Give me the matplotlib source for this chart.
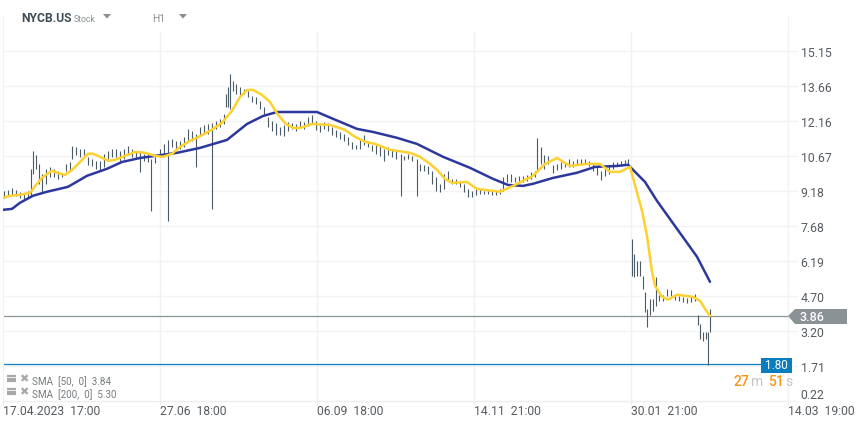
import matplotlib
matplotlib.use('Agg')
import matplotlib.pyplot as plt
from matplotlib.patches import Polygon, Rectangle

plt.rcParams['font.family'] = ['Roboto', 'DejaVu Sans']

W, H = 859, 427

# x is the position on the time axis, 157 units between date labels
bar_x = [1, 5, 9, 13, 17, 21, 25, 28, 30, 33,
         36, 39, 43, 47, 51, 55, 59, 63, 67, 69,
         73, 77, 81, 85, 89, 93, 97, 101, 105, 109,
         113, 117, 121, 125, 129, 133, 137, 141, 145, 148,
         152, 157, 161, 165, 169, 173, 177, 181, 185, 189,
         193, 197, 201, 205, 209, 213, 217, 221, 223, 225,
         227, 230, 233, 237, 241, 245, 249, 253, 257, 261,
         265, 269, 273, 277, 281, 285, 289, 293, 297, 301,
         305, 309, 313, 317, 321, 325, 329, 333, 337, 341,
         345, 349, 353, 357, 361, 365, 369, 373, 377, 381,
         385, 389, 393, 398, 401, 405, 409, 414, 417, 421,
         425, 429, 433, 437, 441, 445, 449, 453, 457, 461,
         465, 469, 473, 477, 481, 485, 489, 493, 497, 500,
         504, 508, 512, 516, 520, 524, 528, 532, 534, 538,
         541, 545, 550, 554, 558, 562, 566, 570, 574, 578,
         582, 586, 590, 594, 598, 602, 606, 610, 614, 618,
         622, 625, 629, 631, 634, 637, 640, 642, 644, 647,
         650, 653, 656, 660, 664, 668, 672, 676, 680, 684,
         688, 692, 695, 697, 700, 703, 705, 707]
bar_high = [9.18, 9.22, 9.31, 9.22, 9.14, 9.05, 9.18, 10.12, 10.88, 10.71,
            10.33, 9.90, 10.12, 10.20, 10.12, 10.03, 9.90, 10.33, 10.41, 11.10,
            11.05, 10.97, 10.97, 10.63, 10.54, 10.46, 10.46, 10.76, 10.88, 10.97,
            10.97, 10.88, 10.97, 11.10, 10.97, 10.88, 10.88, 10.76, 10.76, 10.54,
            10.63, 10.97, 11.18, 11.35, 11.39, 11.31, 11.31, 11.48, 11.82, 11.74,
            11.61, 11.91, 11.99, 12.03, 12.08, 12.16, 12.25, 12.46, 13.31, 13.61,
            14.16, 13.87, 13.74, 13.61, 13.52, 13.44, 13.23, 13.18, 13.01, 12.76,
            12.33, 12.16, 12.08, 11.91, 11.99, 12.12, 12.08, 12.03, 12.16, 12.12,
            12.33, 12.42, 12.16, 11.99, 12.12, 12.08, 11.91, 11.78, 11.69, 11.61,
            11.48, 11.27, 11.14, 11.39, 11.56, 11.31, 11.14, 11.14, 11.10, 10.97,
            11.05, 10.97, 10.88, 10.76, 10.67, 10.76, 10.67, 10.54, 10.33, 10.29,
            10.24, 10.03, 9.78, 9.48, 9.90, 10.03, 9.69, 9.69, 9.60, 9.48,
            9.26, 9.18, 9.26, 9.26, 9.18, 9.22, 9.22, 9.22, 9.26, 9.78,
            9.90, 9.90, 9.78, 9.82, 9.82, 9.86, 9.99, 10.03, 11.44, 11.05,
            10.71, 10.67, 10.29, 10.33, 10.41, 10.41, 10.54, 10.46, 10.54, 10.54,
            10.54, 10.46, 10.33, 10.24, 10.03, 10.12, 10.29, 10.41, 10.41, 10.46,
            10.50, 10.54, 7.13, 6.50, 6.20, 6.20, 5.56, 4.88, 4.15, 4.58,
            4.58, 5.52, 4.75, 4.75, 5.00, 4.96, 4.75, 4.71, 4.66, 4.62,
            4.71, 4.80, 3.90, 3.51, 3.17, 3.17, 3.17, 4.15]
bar_low = [8.88, 8.97, 9.01, 8.97, 8.88, 8.80, 8.88, 8.97, 9.90, 10.12,
           9.48, 9.14, 9.48, 9.78, 9.78, 9.69, 9.78, 10.03, 10.03, 10.54,
           10.71, 10.63, 10.71, 10.29, 10.24, 10.12, 10.03, 10.20, 10.54, 10.63,
           10.63, 10.46, 10.54, 10.71, 10.63, 10.54, 9.99, 10.46, 10.41, 8.33,
           10.37, 10.63, 10.76, 7.90, 11.05, 10.97, 10.97, 11.05, 11.31, 11.31,
           10.20, 11.52, 11.61, 11.61, 8.41, 11.82, 11.91, 12.03, 12.76, 12.76,
           12.67, 13.44, 13.31, 13.27, 13.31, 13.18, 12.97, 12.89, 12.67, 12.46,
           11.91, 11.74, 11.56, 11.56, 11.52, 11.74, 11.82, 11.74, 11.91, 11.82,
           11.95, 12.03, 11.78, 11.69, 11.82, 11.74, 11.56, 11.48, 11.39, 11.31,
           11.14, 10.97, 10.97, 10.97, 11.14, 11.05, 10.88, 10.76, 10.67, 10.46,
           10.71, 10.63, 10.54, 8.97, 10.50, 10.54, 10.46, 8.97, 10.03, 10.03,
           9.90, 9.48, 9.18, 9.14, 9.26, 9.60, 9.48, 9.48, 9.35, 9.14,
           8.92, 8.92, 9.01, 9.05, 9.05, 9.05, 9.01, 9.01, 9.05, 9.18,
           9.56, 9.56, 9.56, 9.56, 9.56, 9.60, 9.69, 9.78, 10.03, 10.33,
           10.12, 10.33, 9.95, 10.07, 10.12, 10.20, 10.20, 10.20, 10.29, 10.33,
           10.33, 10.24, 10.03, 9.86, 9.65, 9.82, 9.90, 10.12, 10.24, 10.24,
           10.29, 10.33, 5.56, 5.52, 5.56, 5.56, 5.00, 4.02, 3.38, 3.90,
           4.07, 4.28, 4.49, 4.49, 4.71, 4.71, 4.54, 4.49, 4.45, 4.41,
           4.45, 4.49, 3.47, 2.87, 2.79, 2.87, 1.77, 3.17]

sma50_x = [0, 7, 17, 27, 33, 39, 44, 49, 54, 62, 69, 77, 85, 90, 97, 105, 112, 122, 132, 142,
           152, 160, 169, 177, 187, 194, 207, 219, 229, 237, 244, 250, 259, 267, 275, 283, 290, 297,
           309, 327, 342, 352, 362, 372, 387, 407, 417, 427, 434, 442, 449, 464, 474, 497, 510, 530,
           542, 554, 567, 584, 597, 607, 617, 627, 633, 639, 644, 649, 652, 659, 665, 674, 690, 697,
           702, 707]
sma50_y = [8.88, 8.97, 9.01, 9.09, 9.43, 9.73, 9.90, 10.03, 9.95, 9.86, 10.07, 10.41, 10.76, 10.76, 10.63, 10.46,
           10.50, 10.67, 10.84, 10.80, 10.67, 10.63, 10.76, 11.05, 11.31, 11.44, 11.74, 12.08, 12.59, 13.18, 13.48,
           13.48, 13.27, 12.97, 12.42, 12.03, 11.86, 11.86, 12.03, 11.99, 11.78, 11.48, 11.27, 11.18, 10.93, 10.80,
           10.63, 10.33, 10.07, 9.69, 9.52, 9.56, 9.26, 9.14, 9.39, 9.82, 10.33, 10.58, 10.24, 10.33, 10.33, 9.99,
           9.99, 10.20, 9.26, 8.33, 7.26, 5.73, 5.13, 4.66, 4.54, 4.75, 4.66, 4.49, 4.15, 3.85]

sma200_x = [0, 9, 17, 30, 44, 65, 84, 104, 119, 137, 174, 197, 224, 244, 260, 274, 297, 314, 330, 354, 370, 394,
            414, 440, 467, 490, 505, 520, 530, 550, 574, 592, 614, 625, 642, 654, 674, 694, 707]
sma200_y = [8.37, 8.41, 8.67, 8.97, 9.14, 9.35, 9.82, 10.12, 10.41, 10.58, 10.80, 11.01, 11.35, 12.03, 12.37, 12.54,
            12.54, 12.54, 12.25, 11.82, 11.69, 11.44, 11.18, 10.63, 10.16, 9.69, 9.43, 9.39, 9.48, 9.73, 9.95, 10.20,
            10.24, 10.29, 9.56, 8.75, 7.56, 6.37, 5.30]

price_ticks = [0.22, 1.71, 3.20, 4.70, 6.19, 7.68, 9.18, 10.67, 12.16, 13.66, 15.15]
date_pos = [0, 157, 314, 471, 628, 785]
date_labels = ['17.04.2023  17:00', '27.06  18:00', '06.09  18:00', '14.11  21:00', '30.01  21:00', '14.03  19:00']

last_price = 3.86
low_line = 1.80

fig = plt.figure(figsize=(W / 100, H / 100), dpi=100)
ax = fig.add_axes([3 / W, 1 - 402 / H, 785 / W, 384 / H])
ax.set_xlim(0, 785)
ax.set_ylim(0.22, 16.59)

for s in ax.spines.values():
    s.set_visible(False)
ax.spines['bottom'].set_visible(True)
ax.spines['bottom'].set_color('#eeeeee')
ax.spines['left'].set_visible(True)
ax.spines['left'].set_color('#f2f2f2')
ax.spines['right'].set_visible(True)
ax.spines['right'].set_color('#f2f2f2')

# grid runs a little past the right border, up to the labels
ax.hlines(price_ticks, 0, 794, color='#f3f3f3', lw=1, zorder=1, clip_on=False)
ax.vlines(date_pos[1:], 0.22, 16.0, color='#f1f1f1', lw=1, zorder=1)

ax.yaxis.tick_right()
ax.set_yticks(price_ticks)
ax.set_yticklabels(['%.2f' % p for p in price_ticks], fontsize=8.8, color='#555b60')
ax.tick_params(axis='y', length=0, pad=9)
ax.get_yticklabels()[0].set_verticalalignment('bottom')

ax.set_xticks(date_pos)
ax.set_xticklabels(date_labels, fontsize=8.7, color='#555b60', ha='left')
ax.tick_params(axis='x', length=3, width=1, color='#eeeeee', pad=-0.5)

# candles squeezed to wicks
ax.vlines(bar_x, bar_low, bar_high, color='#4a5b67', lw=0.8, zorder=3)

ax.axhline(last_price, color='#8c9498', lw=0.9, zorder=2)
ax.axhline(low_line, color='#0b7fc0', lw=0.9, zorder=2)

ax.plot(sma200_x, sma200_y, color='#2c389c', lw=1.8, zorder=4, solid_capstyle='round', solid_joinstyle='round')
ax.plot(sma50_x, sma50_y, color='#fdd130', lw=1.8, zorder=5, solid_capstyle='round', solid_joinstyle='round')

# overlays placed in figure pixels, y from the top
ov = fig.add_axes([0, 0, 1, 1], facecolor='none')
ov.set_xlim(0, W)
ov.set_ylim(H, 0)
ov.axis('off')

ov.text(21, 18.5, 'NYCB.US', fontsize=8.7, fontweight='bold', color='#3f4d57', va='center')
ov.text(74, 19.5, 'Stock', fontsize=6.3, color='#8a8f93', va='center')
ov.add_patch(Polygon([[103, 15], [111, 15], [107, 19.5]], color='#8c8c8c', lw=0))
ov.text(152, 19.5, 'H1', fontsize=7.4, color='#8a8f93', va='center')
ov.add_patch(Polygon([[179, 15], [187, 15], [183, 19.5]], color='#8c8c8c', lw=0))

# last price tag
ov.add_patch(Polygon([[788, 317], [795, 310], [847, 310], [847, 325], [795, 325]], color='#8a9296', lw=0))
ov.text(812, 317.5, '%.2f' % last_price, fontsize=9, fontweight='medium', color='white', ha='center', va='center')
ov.add_patch(Rectangle((761, 359), 31, 15, color='#0a7dbe', lw=0))
ov.text(776.5, 366, '%.2f' % low_line, fontsize=8.4, color='white', ha='center', va='center')

# countdown
ov.text(734, 382, '27', fontsize=10, fontweight='medium', color='#f7941d', va='center')
ov.text(751, 382, 'm', fontsize=10, color='#c4c7c9', va='center')
ov.text(768, 382, '51', fontsize=10, fontweight='medium', color='#f7941d', va='center')
ov.text(785, 382, 's', fontsize=10, color='#c4c7c9', va='center')

# indicator legend
for yy, txt in [(382, 'SMA  [50,  0]  3.84'), (395, 'SMA  [200,  0]  5.30')]:
    ov.hlines([yy - 5, yy - 2.5, yy], 7, 16, color='#a8a8a8', lw=1.6)
    ov.text(24, yy - 3, '\u2716', fontsize=8, color='#a8a8a8', ha='center', va='center', family='DejaVu Sans')
    ov.text(32, yy, txt, fontsize=7.1, color='#777b7e', va='center')

fig.savefig('out.png', dpi=100)
